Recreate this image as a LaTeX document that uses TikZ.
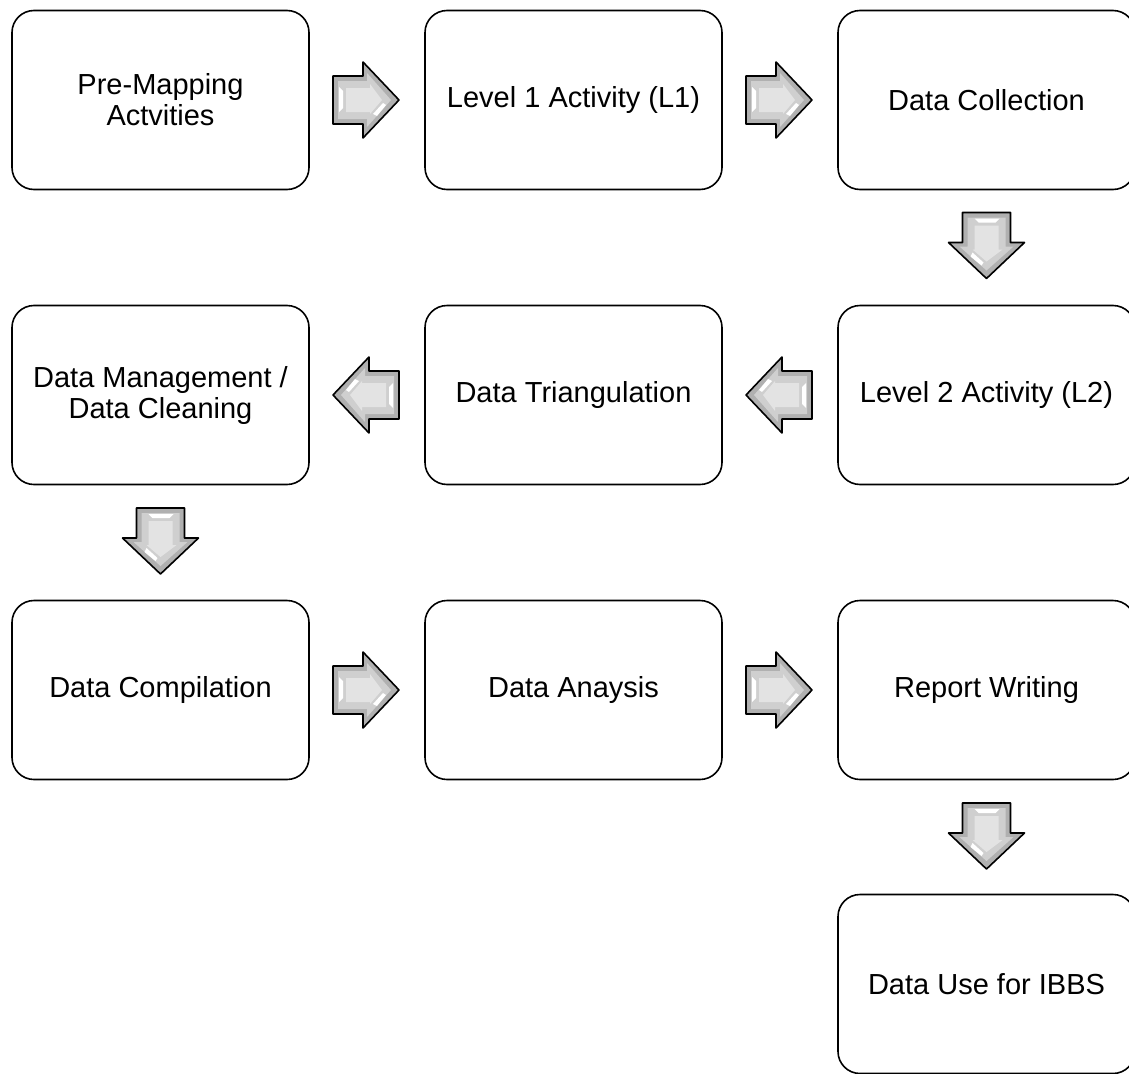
\documentclass[tikz,border=0pt]{standalone}
\usepackage{fontspec}
\setmainfont{Liberation Sans}
\begin{document}
\begin{tikzpicture}[x=1pt,y=-1pt]
\tikzset{
  stepbox/.style={draw=black, line width=1.6pt, rounded corners=22pt, fill=white,
    minimum width=297pt, minimum height=179pt, align=center,
    font=\fontsize{29}{31}\selectfont, inner sep=0pt},
  blockarrow/.pic={
    \fill[gray!62] (-33,-24) -- (-3,-24) -- (-3,-38) -- (33,0) -- (-3,38) -- (-3,24) -- (-33,24) -- cycle;
    \fill[gray!38] (-28,-19) -- (1,-19) -- (1,-27) -- (25,0) -- (1,27) -- (1,19) -- (-28,19) -- cycle;
    \fill[gray!22] (-20,-12) -- (4,-12) -- (4,-16) -- (16,0) -- (4,14) -- (4,12) -- (-20,12) -- cycle;
    \fill[white] (-27,-13) -- (-23,-9) -- (-23,8) -- (-27,12) -- cycle;
    \fill[white] (7,14) -- (17,3) -- (20,5) -- (11,16) -- cycle;
    \draw[black, line width=1.6pt, line join=round] (-33,-24) -- (-3,-24) -- (-3,-38) -- (33,0) -- (-3,38) -- (-3,24) -- (-33,24) -- cycle;
  }
}
\useasboundingbox (0,0) rectangle (1129,1073);
\begin{scope}
\clip (0,0) rectangle (1129,1073);
\node[stepbox] (pre) at (160.5,100) {Pre-Mapping\\Actvities};
\node[stepbox] (l1) at (573.5,100) {Level 1 Activity (L1)};
\node[stepbox] (dc) at (986.5,100) {Data Collection};
\node[stepbox] (dm) at (160.5,395) {Data Management /\\Data Cleaning};
\node[stepbox] (dt) at (573.5,395) {Data Triangulation};
\node[stepbox] (l2) at (986.5,395) {Level 2 Activity (L2)};
\node[stepbox] (comp) at (160.5,690) {Data Compilation};
\node[stepbox] (ana) at (573.5,690) {Data Anaysis};
\node[stepbox] (rep) at (986.5,690) {Report Writing};
\node[stepbox] (use) at (986.5,984) {Data Use for IBBS};
\end{scope}
\pic (a1) at (366,100) {blockarrow};
\pic (a2) at (779,100) {blockarrow};
\pic[rotate=-90] (a3) at (986.5,245.5) {blockarrow};
\pic[rotate=180] (a4) at (779,395) {blockarrow};
\pic[rotate=180] (a5) at (366,395) {blockarrow};
\pic[rotate=-90] (a6) at (160.5,541) {blockarrow};
\pic (a7) at (366,690) {blockarrow};
\pic (a8) at (779,690) {blockarrow};
\pic[rotate=-90] (a9) at (986.5,836) {blockarrow};
\end{tikzpicture}
\end{document}
